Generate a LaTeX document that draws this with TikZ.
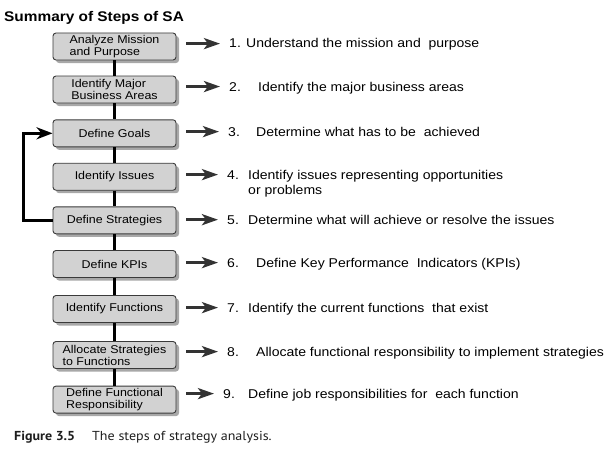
\documentclass[tikz,border=0pt]{standalone}
\usepackage{fontspec}
\setmainfont{Liberation Sans}[FakeStretch=1.1]
\newfontfamily\capfont{PT Sans}[FakeStretch=1.08]
\usetikzlibrary{arrows.meta,shadows,calc}
\definecolor{boxfill}{HTML}{D2D2D2}
\definecolor{boxline}{HTML}{3A3A3A}
\definecolor{shadowc}{HTML}{A8A8A8}
\definecolor{arrc}{HTML}{333333}
\definecolor{capc}{HTML}{1E1E1E}
\tikzset{
  stepbox/.style={draw=boxline, line width=0.9pt, fill=boxfill, rounded corners=3pt,
    minimum width=123pt, minimum height=27pt, inner sep=1pt, align=left,
    font=\fontsize{11.3}{12}\selectfont,
    drop shadow={shadow xshift=3pt, shadow yshift=-3pt, fill=shadowc, opacity=1}},
  link/.style={line width=3pt, black},
  fb/.style={line width=3pt, black, -{Stealth[length=16pt,width=12pt,inset=5pt]}},
  arr/.style={line width=3pt, arrc, -{Stealth[length=16pt,width=11pt,inset=4pt]}},
  txt/.style={anchor=base west, inner sep=0pt, font=\fontsize{12.75}{14}\selectfont},
  captxt/.style={anchor=base west, inner sep=0pt},
}
\begin{document}
\begin{tikzpicture}[x=1pt,y=-1pt]
\useasboundingbox (0,0) rectangle (612,452);
\node[captxt, font=\bfseries\fontsize{14}{16}\selectfont] (title) at (4,22) {Summary of Steps of SA};

\node[stepbox] (b1) at (114.5,46.5) {Analyze Mission\\and Purpose};
\node[stepbox] (b2) at (114.5,89.5) {Identify Major\\Business Areas};
\node[stepbox] (b3) at (114.5,133.3) {Define Goals};
\node[stepbox] (b4) at (114.5,176.7) {Identify Issues};
\node[stepbox] (b5) at (114.5,220.3) {Define Strategies};
\node[stepbox] (b6) at (114.5,264) {Define KPIs};
\node[stepbox] (b7) at (114.5,309) {Identify Functions};
\node[stepbox] (b8) at (114.5,355) {Allocate Strategies\\to Functions};
\node[stepbox] (b9) at (114.5,399.6) {Define Functional\\Responsibility};

\draw[link] (b1.south) -- (b2.north);
\draw[link] (b2.south) -- (b3.north);
\draw[link] (b3.south) -- (b4.north);
\draw[link] (b4.south) -- (b5.north);
\draw[link] (b5.south) -- (b6.north);
\draw[link] (b6.south) -- (b7.north);
\draw[link] (b7.south) -- (b8.north);
\draw[link] (b8.south) -- (b9.north);

\draw[fb] (b5.west) -- ++(-29,0) |- (b3.west);

\node[txt] (n1) at (229,48) {1.};
\node[txt] (t1) at (246,48) {Understand the mission and\ \ purpose};
\node[txt] (n2) at (229,91) {2.};
\node[txt] (t2) at (258,91) {Identify the major business areas};
\node[txt] (n3) at (228,136) {3.};
\node[txt] (t3) at (256,136) {Determine what has to be\ \ achieved};
\node[txt] (n4) at (227,179) {4.};
\node[txt] (t4) at (248,179) {Identify issues representing opportunities};
\node[txt] (t4b) at (248,194) {or problems};
\node[txt] (n5) at (227,224) {5.};
\node[txt] (t5) at (248,224) {Determine what will achieve or resolve the issues};
\node[txt] (n6) at (227,267) {6.};
\node[txt] (t6) at (256,267) {Define Key Performance\ \ Indicators (KPIs)};
\node[txt] (n7) at (227,312) {7.};
\node[txt] (t7) at (248,312) {Identify the current functions\ \ that exist};
\node[txt] (n8) at (227,356) {8.};
\node[txt] (t8) at (256,356) {Allocate functional responsibility to implement strategies};
\node[txt] (n9) at (223,398) {9.};
\node[txt] (t9) at (248,398) {Define job responsibilities for\ \ each function};

\foreach \i in {1,...,9}{
  \draw[arr] ($(b\i.east |- n\i.west)+(10,0)$) -- ($(n\i.west)+(-9,0)$);
}

\node[captxt, text=capc, font=\capfont\bfseries\fontsize{13}{15}\selectfont] (cap1) at (14,440.5) {Figure 3.5};
\node[captxt, text=capc, font=\capfont\fontsize{13}{15}\selectfont] (cap2) at (92,440.5) {The steps of strategy analysis.};
\end{tikzpicture}
\end{document}
